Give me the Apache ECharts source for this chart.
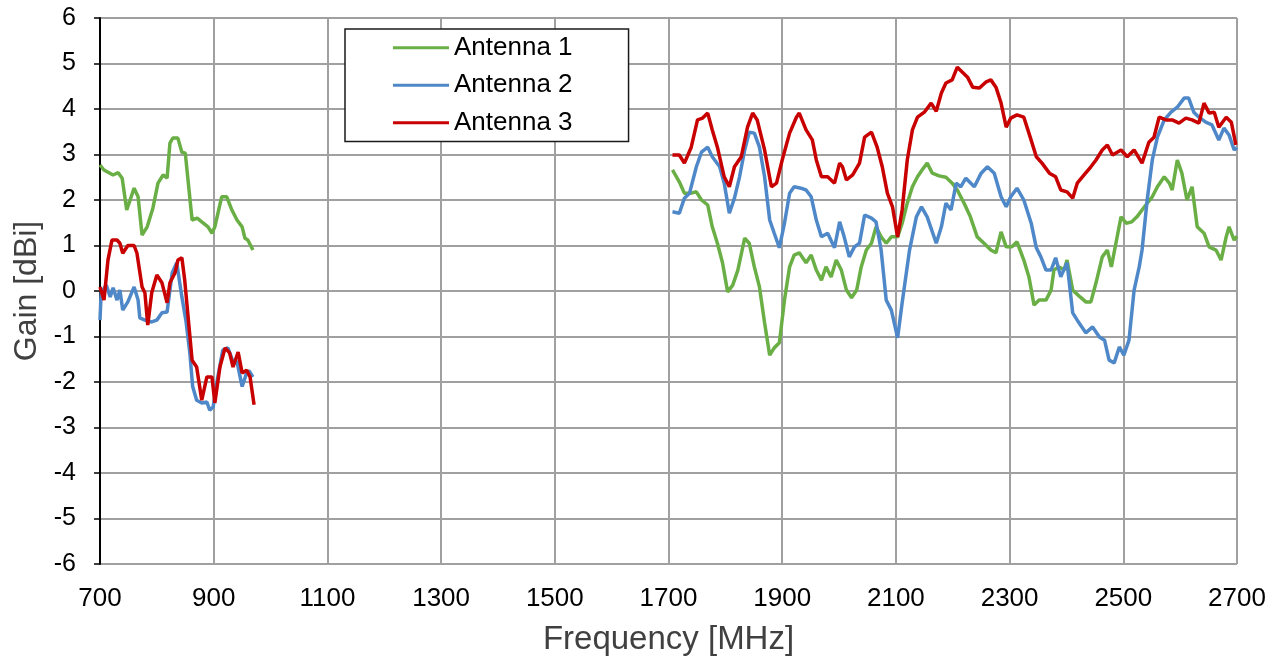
<!DOCTYPE html>
<html>
<head>
<meta charset="utf-8">
<script src="https://cdn.jsdelivr.net/npm/echarts@6/dist/echarts.min.js"></script>
<style>html,body{margin:0;padding:0;background:#fff}#c{width:1278px;height:666px}</style>
</head>
<body>
<div id="c"></div>
<script>
// ---- Data ----
const seriesNames = ['Antenna 1', 'Antenna 2', 'Antenna 3'];
const xTicks = [700, 900, 1100, 1300, 1500, 1700, 1900, 2100, 2300, 2500, 2700];
const yTicks = [-6, -5, -4, -3, -2, -1, 0, 1, 2, 3, 4, 5, 6];

// Antenna 1 (green)
const ant1LowFreq = [700,707,723,732,739,747,753,760,767,774,783,793,802,811,818,823,828,837,844,850,862,871,879,890,897,902,914,923,932,941,950,955,960,969];
const ant1LowGain = [2.77,2.66,2.55,2.6,2.48,1.78,2.0,2.26,2.07,1.23,1.41,1.82,2.37,2.55,2.48,3.25,3.36,3.36,3.05,3.03,1.56,1.6,1.52,1.41,1.27,1.41,2.07,2.07,1.78,1.56,1.41,1.16,1.12,0.9];
const ant1HighFreq = [1707,1719,1728,1740,1749,1758,1769,1777,1786,1795,1804,1813,1822,1834,1842,1851,1860,1869,1878,1886,1895,1904,1913,1921,1930,1942,1951,1960,1969,1977,1986,1995,2004,2013,2022,2031,2039,2048,2057,2065,2074,2083,2092,2103,2111,2120,2129,2138,2146,2155,2164,2176,2188,2199,2208,2220,2231,2243,2255,2267,2276,2285,2294,2304,2313,2325,2334,2343,2352,2364,2373,2378,2387,2396,2401,2411,2424,2434,2443,2452,2463,2472,2479,2487,2496,2505,2515,2524,2533,2542,2551,2560,2572,2581,2586,2595,2603,2612,2621,2630,2642,2651,2663,2672,2681,2686,2695,2700];
const ant1HighGain = [2.66,2.4,2.15,2.15,2.18,2.0,1.89,1.41,1.05,0.62,-0.02,0.13,0.46,1.16,1.05,0.53,0.09,-0.7,-1.41,-1.25,-1.14,-0.2,0.53,0.79,0.84,0.62,0.79,0.46,0.24,0.53,0.31,0.68,0.46,0.02,-0.15,0.02,0.53,0.9,1.05,1.41,1.19,1.05,1.19,1.19,1.49,1.93,2.29,2.51,2.66,2.81,2.59,2.53,2.5,2.37,2.22,1.93,1.63,1.19,1.05,0.9,0.84,1.3,0.97,0.97,1.08,0.68,0.31,-0.31,-0.2,-0.2,0.02,0.46,0.53,0.46,0.68,0.02,-0.13,-0.24,-0.24,0.18,0.75,0.9,0.53,1.05,1.63,1.49,1.52,1.63,1.78,1.93,2.07,2.29,2.51,2.37,2.22,2.88,2.59,2.0,2.29,1.41,1.27,0.97,0.9,0.68,1.19,1.41,1.12,1.2];

// Antenna 2 (blue)
const ant2LowFreq = [700,702,711,718,723,730,735,740,749,760,767,770,779,791,800,809,818,827,835,844,851,858,863,870,879,888,893,899,907,916,925,934,941,950,958,962,969];
const ant2LowGain = [-0.64,-0.04,0.13,-0.13,0.07,-0.2,0.02,-0.42,-0.24,0.09,-0.2,-0.59,-0.64,-0.68,-0.64,-0.48,-0.46,0.4,0.62,-0.13,-0.64,-1.36,-2.1,-2.4,-2.46,-2.44,-2.62,-2.55,-1.9,-1.3,-1.25,-1.55,-1.55,-2.1,-1.8,-1.75,-1.89];
const ant2HighFreq = [1707,1719,1728,1737,1749,1758,1769,1777,1790,1798,1807,1816,1825,1834,1842,1851,1860,1869,1878,1886,1895,1904,1913,1921,1933,1942,1951,1960,1969,1980,1992,2001,2009,2018,2027,2036,2045,2057,2065,2074,2083,2092,2103,2111,2124,2136,2145,2155,2171,2180,2188,2197,2206,2214,2223,2238,2250,2261,2273,2285,2294,2302,2313,2325,2338,2347,2355,2364,2373,2381,2390,2401,2411,2422,2434,2446,2458,2467,2475,2484,2493,2501,2510,2519,2528,2533,2542,2551,2560,2572,2584,2595,2607,2615,2624,2633,2645,2656,2668,2677,2686,2695,2700];
const ant2HighGain = [1.74,1.71,2.04,2.15,2.73,3.05,3.16,2.95,2.73,2.37,1.71,2.04,2.51,3.1,3.49,3.47,3.16,2.51,1.56,1.27,0.95,1.49,2.15,2.29,2.26,2.22,2.07,1.56,1.19,1.27,0.95,1.52,1.19,0.75,0.97,1.05,1.67,1.6,1.52,0.9,-0.2,-0.42,-1.03,-0.26,0.9,1.63,1.85,1.63,1.05,1.41,1.93,1.78,2.37,2.29,2.48,2.29,2.59,2.73,2.59,2.07,1.85,2.07,2.26,2.0,1.49,0.95,0.75,0.46,0.46,0.73,0.31,0.62,-0.48,-0.7,-0.92,-0.79,-1.01,-1.08,-1.52,-1.58,-1.23,-1.41,-1.08,0.02,0.53,0.9,2.0,2.88,3.38,3.76,3.93,4.04,4.24,4.24,3.93,3.82,3.71,3.65,3.32,3.58,3.43,3.1,3.15];

// Antenna 3 (red)
const ant3LowFreq = [700,707,714,721,730,735,740,749,760,765,774,779,784,791,800,809,818,823,832,837,844,849,862,870,879,888,897,902,911,920,928,934,943,950,958,964,971];
const ant3LowGain = [0.09,-0.2,0.68,1.12,1.12,1.05,0.83,1.0,1.0,0.83,0.09,-0.04,-0.75,-0.04,0.35,0.18,-0.26,0.18,0.4,0.68,0.73,0.24,-1.52,-1.67,-2.4,-1.89,-1.89,-2.46,-1.67,-1.25,-1.36,-1.67,-1.34,-1.8,-1.74,-1.89,-2.5];
const ant3HighFreq = [1707,1719,1728,1740,1751,1760,1769,1777,1786,1798,1807,1816,1828,1839,1848,1856,1869,1881,1890,1900,1913,1925,1930,1942,1953,1960,1969,1980,1992,2001,2006,2013,2024,2036,2045,2057,2067,2076,2085,2094,2103,2111,2120,2129,2138,2150,2162,2171,2180,2188,2199,2208,2217,2226,2235,2247,2258,2267,2276,2285,2294,2302,2313,2325,2334,2347,2357,2370,2381,2390,2401,2411,2419,2431,2443,2452,2463,2472,2481,2496,2507,2519,2533,2545,2554,2563,2575,2586,2598,2610,2621,2633,2642,2651,2660,2668,2681,2690,2698];
const ant3HighGain = [2.99,2.99,2.81,3.16,3.76,3.8,3.91,3.54,3.16,2.51,2.29,2.73,2.95,3.6,3.91,3.76,3.1,2.29,2.37,2.88,3.47,3.82,3.91,3.54,3.32,2.88,2.51,2.51,2.37,2.81,2.73,2.44,2.55,2.81,3.38,3.49,3.16,2.73,2.15,1.85,1.19,1.78,2.88,3.54,3.82,3.93,4.13,3.95,4.35,4.57,4.64,4.92,4.81,4.7,4.48,4.46,4.59,4.64,4.48,4.13,3.6,3.8,3.87,3.82,3.47,2.95,2.81,2.59,2.51,2.22,2.18,2.04,2.37,2.55,2.73,2.88,3.1,3.21,2.99,3.1,2.95,3.1,2.81,3.27,3.38,3.82,3.76,3.76,3.69,3.8,3.76,3.69,4.13,3.91,3.93,3.6,3.82,3.71,3.21];

const colors = ['#6aaf45', '#4f88c8', '#c80000'];

function buildData(fLow, gLow, fHigh, gHigh) {
  const d = [];
  for (let i = 0; i < fLow.length; i++) d.push([fLow[i], gLow[i]]);
  d.push([1300, null]);
  for (let i = 0; i < fHigh.length; i++) d.push([fHigh[i], gHigh[i]]);
  return d;
}
const allData = [
  buildData(ant1LowFreq, ant1LowGain, ant1HighFreq, ant1HighGain),
  buildData(ant2LowFreq, ant2LowGain, ant2HighFreq, ant2HighGain),
  buildData(ant3LowFreq, ant3LowGain, ant3HighFreq, ant3HighGain)
];

const chart = echarts.init(document.getElementById('c'), null, {renderer: 'canvas'});
const font = '"Liberation Sans", Arial, sans-serif';
chart.setOption({
  animation: false,
  backgroundColor: '#ffffff',
  grid: {left: 100, right: 41, top: 18, bottom: 102, show: false},
  legend: {
    orient: 'vertical',
    left: 345, top: 29,
    data: seriesNames,
    icon: 'rect',
    backgroundColor: '#ffffff',
    borderColor: '#1a1a1a',
    borderWidth: 1.5,
    borderRadius: 0,
    padding: [0, 56, 0, 48],
    itemGap: 0,
    itemWidth: 56,
    itemHeight: 3,
    textStyle: {fontFamily: font, fontSize: 26, color: '#000', lineHeight: 37.5}
  },
  xAxis: {
    type: 'value', min: xTicks[0], max: xTicks[xTicks.length - 1], interval: 200,
    name: 'Frequency [MHz]', nameLocation: 'middle', nameGap: 59,
    nameTextStyle: {fontFamily: font, fontSize: 33, color: '#404040'},
    axisLine: {show: true, lineStyle: {color: '#a0a0a0', width: 2}},
    axisTick: {show: false},
    axisLabel: {fontFamily: font, fontSize: 26, color: '#000', margin: 22, formatter: v => String(v)},
    splitLine: {show: true, lineStyle: {color: '#a0a0a0', width: 2}}
  },
  yAxis: {
    type: 'value', min: yTicks[0], max: yTicks[yTicks.length - 1], interval: 1,
    name: 'Gain [dBi]', nameLocation: 'middle', nameGap: 54, nameRotate: 90,
    nameTextStyle: {fontFamily: font, fontSize: 32, color: '#404040'},
    axisLine: {show: true, lineStyle: {color: '#000', width: 2}},
    axisTick: {show: true, inside: false, length: 6, lineStyle: {color: '#000', width: 1.5}},
    axisLabel: {fontFamily: font, fontSize: 25, color: '#000', margin: 24},
    splitLine: {show: true, lineStyle: {color: '#a0a0a0', width: 2}}
  },
  series: seriesNames.map((n, i) => ({
    name: n, type: 'line', data: allData[i], symbol: 'none', connectNulls: false,
    lineStyle: {color: colors[i], width: 3.5}, itemStyle: {color: colors[i]},
    z: 3 + (i === 2 ? 1 : 0)
  }))
});
</script>
</body>
</html>
